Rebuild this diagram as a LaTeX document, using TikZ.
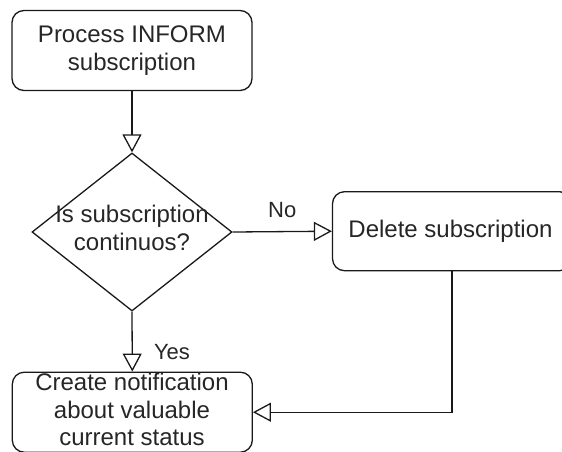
\documentclass[tikz,border=0pt]{standalone}
\usepackage{fontspec}
\setmainfont{Liberation Sans}
\usetikzlibrary{arrows.meta,shapes.geometric}

\tikzset{
  box/.style={draw=black!90, line width=1.3pt, rounded corners=12pt,
    minimum width=240pt, minimum height=80pt, inner sep=0pt,
    align=center, text=black!85, font=\fontsize{24}{28.5}\selectfont},
  decision/.style={draw=black!90, line width=1.3pt, diamond, inner sep=0pt,
    minimum width=200pt, minimum height=158pt},
  boxtext/.style={inner sep=0pt, align=center, text=black!85,
    font=\fontsize{24}{28.5}\selectfont},
  flow/.style={draw=black!90, line width=1.3pt,
    -{Triangle[open, length=18pt, width=19pt, line width=1.3pt]}},
  edgelabel/.style={inner sep=0pt, text=black!85, font=\fontsize{22}{26}\selectfont}
}

\begin{document}
\begin{tikzpicture}[x=1pt, y=-1pt]
  \useasboundingbox (0,0) rectangle (562,451);
  \begin{scope}
    \clip (0,0) rectangle (562,451);

    % process steps
    \node[box] (proc) at (132,50.5) {Process INFORM\\subscription};
    \node[decision] (dec) at (132,232) {};
    \node[boxtext] (dectext) at (132,228) {Is subscription\\continuos?};
    \node[box, minimum width=239pt, minimum height=79pt] (del) at (452,231.2) {};
    \node[boxtext, anchor=center] (deltext) at (450.5,231) {Delete subscription};
    \node[box, minimum height=80pt] (notif) at (132.3,412.2) {};
    \node[boxtext, font=\fontsize{24}{27.5}\selectfont] (notiftext) at (132,409.5)
      {Create notification\\about valuable\\current status};

    % connectors
    \draw[flow] (proc.south) -- (dec.north);
    \draw[flow] (dec.east) -- (del.west)
      node[edgelabel, pos=0.5, above=13pt] (no) {No};
    \draw[flow] (dec.south) -- (notif.north);
    \node[edgelabel] (yes) at (172,352) {Yes};
    \draw[flow] (del.south) |- (notif.east);
  \end{scope}
\end{tikzpicture}
\end{document}
